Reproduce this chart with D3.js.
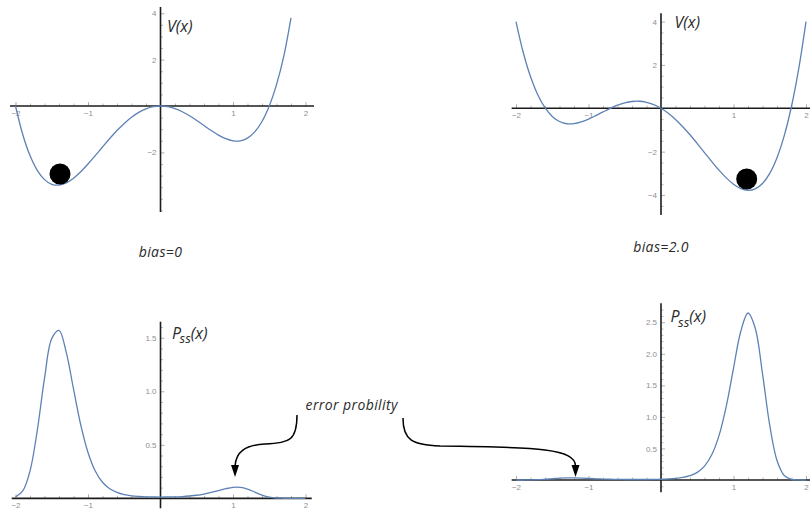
<!DOCTYPE html>
<html><head><meta charset="utf-8">
<script src="https://cdn.jsdelivr.net/npm/d3@7"></script>
<style>
html,body{margin:0;padding:0;background:#fff;}
svg{display:block;}
</style></head>
<body><svg id="c" width="810" height="509"></svg>
<script>
// ---------------- data ----------------
const xs = [-2.0,-1.9,-1.8,-1.7,-1.6,-1.5,-1.4,-1.3,-1.2,-1.1,-1.0,-0.9,-0.8,-0.7,-0.6,-0.5,-0.4,-0.3,-0.2,-0.1,
            0.0,0.1,0.2,0.3,0.4,0.5,0.6,0.7,0.8,0.9,1.0,1.1,1.2,1.3,1.4,1.5,1.6,1.7,1.8,1.9,2.0];
// potential V(x), bias = 0 (x from -2 to 1.8)
const vBias0 = [0,-1.227,-2.138,-2.774,-3.174,-3.375,-3.410,-3.312,-3.110,-2.831,-2.500,-2.138,-1.766,-1.401,-1.058,-0.750,-0.486,-0.275,-0.122,-0.030,
                0,-0.029,-0.114,-0.248,-0.422,-0.625,-0.842,-1.058,-1.254,-1.409,-1.500,-1.500,-1.382,-1.115,-0.666,0,0.922,2.139,3.80];
// potential V(x), bias = 2.0
const vBias2 = [4.000,2.573,1.462,0.626,0.026,-0.375,-0.610,-0.712,-0.710,-0.631,-0.500,-0.338,-0.166,-0.001,0.142,0.250,0.314,0.325,0.278,0.170,
                0,-0.229,-0.514,-0.848,-1.222,-1.625,-2.042,-2.458,-2.854,-3.209,-3.500,-3.700,-3.782,-3.715,-3.466,-3.000,-2.278,-1.261,0.094,1.832,4.000];
// stationary distribution Pss(x), bias = 0
const pBias0 = [0.012,0.069,0.255,0.633,1.120,1.493,1.569,1.364,1.022,0.686,0.428,0.255,0.150,0.089,0.055,0.035,0.024,0.018,0.014,0.013,
                0.012,0.013,0.014,0.017,0.022,0.029,0.040,0.055,0.072,0.090,0.103,0.103,0.087,0.059,0.031,0.012,0.003,0.001,0,0,0];
// stationary distribution Pss(x), bias = 2.0
const pBias2 = [0,0.0003,0.0015,0.005,0.012,0.020,0.029,0.033,0.033,0.029,0.024,0.019,0.015,0.012,0.010,0.008,0.008,0.008,0.008,0.009,
                0.012,0.017,0.025,0.040,0.068,0.121,0.220,0.399,0.703,1.167,1.769,2.354,2.646,2.405,1.685,0.866,0.309,0.072,0.010,0.001,0];
// balls (data coords)
const ballBias0 = [-1.386, -2.93];
const ballBias2 = [1.182, -3.26];
// tick labels
const xTicks = [-2,-1,1,2];
const vTicks0 = [-2,2,4];
const vTicks2 = [-4,-2,2,4];
const pTicks0 = [0.5,1.0,1.5];
const pTicks2 = [0.5,1.0,1.5,2.0,2.5];
// texts
const biasLabels = ["bias=0","bias=2.0"];
const errorLabel = "error probility";
// annotation arrows (data coords of the panel they point into): M p0 C p1 p2 p3 C p4 p5 p6, tip
const arrowLeft = [[1.883,0.779],[1.883,0.545],[1.786,0.517],[1.441,0.507],[1.166,0.498],[1.041,0.433],[1.028,0.302]];
const arrowLeftTip = [1.028,0.199];
const arrowRight = [[-3.559,0.981],[-3.559,0.633],[-3.434,0.554],[-3.048,0.538],[-1.669,0.522],[-1.186,0.491],[-1.179,0.222]];
const arrowRightTip = [-1.179,0.047];

// ---------------- drawing ----------------
const svg = d3.select("#c");
const BLUE = "#5E81B5", AX = "#1c1c1c", TICK = "#9a9a9a", TXT = "#2b2b2b";
const FONT = "'Open Sans', Lato, sans-serif";

function panel(cfg){
  const g = svg.append("g");
  const x = d3.scaleLinear().domain([-2,2]).range(cfg.xr);
  const y = d3.scaleLinear().domain(cfg.yd).range(cfg.yr);
  const y0 = y(0), x0 = x(0);

  const minorX = x.ticks(20).filter(v => Math.abs(v - Math.round(v)) > 1e-6);
  g.append("g").attr("transform",`translate(0,${y0})`)
    .call(d3.axisBottom(x).tickValues(minorX).tickSize(-2.5).tickFormat(""))
    .call(s => { s.select(".domain").remove(); s.selectAll("line").attr("stroke",TICK).attr("stroke-width",0.7); });
  g.append("g").attr("transform",`translate(0,${y0})`)
    .call(d3.axisBottom(x).tickValues(xTicks).tickSize(-4).tickPadding(4).tickFormat(d3.format("d")))
    .call(s => {
      s.select(".domain").remove();
      s.selectAll("line").attr("stroke",TICK).attr("stroke-width",0.8);
      s.selectAll("text").attr("fill","#8f8f8f").attr("font-size",8).attr("font-family","'Liberation Sans', Arial, sans-serif");
    });
  const minorY = d3.range(Math.ceil(cfg.yd[0]/cfg.minor)*cfg.minor, cfg.yd[1], cfg.minor)
      .filter(v => Math.abs(v) > 1e-6 && !cfg.yTicks.some(t => Math.abs(t - v) < 1e-6));
  g.append("g").attr("transform",`translate(${x0},0)`)
    .call(d3.axisLeft(y).tickValues(minorY).tickSize(-2.5).tickFormat(""))
    .call(s => { s.select(".domain").remove(); s.selectAll("line").attr("stroke",TICK).attr("stroke-width",0.7); });
  g.append("g").attr("transform",`translate(${x0},0)`)
    .call(d3.axisLeft(y).tickValues(cfg.yTicks).tickSize(-4).tickPadding(4).tickFormat(cfg.fmt))
    .call(s => {
      s.select(".domain").remove();
      s.selectAll("line").attr("stroke",TICK).attr("stroke-width",0.8);
      s.selectAll("text").attr("fill","#8f8f8f").attr("font-size",8).attr("font-family","'Liberation Sans', Arial, sans-serif");
    });

  g.append("line").attr("x1",x(cfg.xext[0])).attr("x2",x(cfg.xext[1])).attr("y1",y0).attr("y2",y0)
    .attr("stroke",AX).attr("stroke-width",1.6);
  g.append("line").attr("x1",x0).attr("x2",x0).attr("y1",cfg.yr[0]).attr("y2",cfg.yr[1])
    .attr("stroke",AX).attr("stroke-width",1.6);

  const pts = d3.zip(xs.slice(0,cfg.vals.length), cfg.vals);
  g.append("path").datum(pts)
    .attr("d", d3.line().x(d=>x(d[0])).y(d=>y(d[1])).curve(d3.curveCatmullRom.alpha(0.5)))
    .attr("fill","none").attr("stroke",BLUE).attr("stroke-width",1.3);

  if (cfg.ball) {
    g.append("circle").attr("cx",x(cfg.ball[0])).attr("cy",y(cfg.ball[1])).attr("r",10.5).attr("fill","#000");
  }

  const t = g.append("text").attr("x",x0+cfg.lab[0]).attr("y",cfg.yr[1]+cfg.lab[1])
     .attr("font-family",FONT).attr("font-style","italic").attr("font-size",16).attr("fill",TXT);
  if (cfg.pss) {
    t.append("tspan").text("P");
    t.append("tspan").text("ss").attr("font-size",13).attr("dx",-1.5).attr("dy",4.5);
    t.append("tspan").text("(x)").attr("dy",-4.5).attr("dx",0);
  } else {
    t.text("V(x)");
  }
  return {x,y};
}

const tl = panel({xr:[15.5,305.5], yd:[-4.57,4.27], yr:[212,7], xext:[-2.076,2.117], yTicks:vTicks0, fmt:d3.format("d"),
                  minor:0.5, vals:vBias0, ball:ballBias0, lab:[6.5,25.3]});
const tr = panel({xr:[516,806], yd:[-4.92,4.38], yr:[215,13.3], xext:[-2.06,2.08], yTicks:vTicks2, fmt:d3.format("d"),
                  minor:0.5, vals:vBias2, ball:ballBias2, lab:[13.5,15]});
const bl = panel({xr:[15.5,305.5], yd:[-0.093,1.65], yr:[508.3,321.7], xext:[-2.052,2.086], yTicks:pTicks0, fmt:d3.format(".1f"),
                  minor:0.1, vals:pBias0, lab:[11.5,17], pss:true});
const br = panel({xr:[516,806], yd:[-0.195,2.8], yr:[492.3,303.3], xext:[-2.06,2.08], yTicks:pTicks2, fmt:d3.format(".1f"),
                  minor:0.1, vals:pBias2, lab:[9.5,19], pss:true});

function label(txt, x, y){
  svg.append("text").attr("x",x).attr("y",y).attr("text-anchor","middle")
    .attr("font-family",FONT).attr("font-style","italic").attr("font-size",14)
    .attr("letter-spacing",0.4).attr("fill",TXT).text(txt);
}
label(biasLabels[0], tl.x(0), 256.5);
label(biasLabels[1], tr.x(0), 251.5);
label(errorLabel, 351.7, 410);

function arrow(pts, tip, sc){
  const P = pts.map(p => [sc.x(p[0]), sc.y(p[1])]);
  const p = d3.path();
  p.moveTo(P[0][0],P[0][1]);
  for (let i=1;i+2<P.length;i+=3) p.bezierCurveTo(P[i][0],P[i][1],P[i+1][0],P[i+1][1],P[i+2][0],P[i+2][1]);
  svg.append("path").attr("d",p.toString()).attr("fill","none").attr("stroke","#000").attr("stroke-width",1.5);
  const e = P[P.length-1], t = [sc.x(tip[0]), sc.y(tip[1])];
  svg.append("path").attr("d",`M${e[0]-4},${e[1]-1}L${e[0]+4},${e[1]-1}L${t[0]},${t[1]}Z`).attr("fill","#000");
}
arrow(arrowLeft, arrowLeftTip, bl);
arrow(arrowRight, arrowRightTip, br);
</script>
</body></html>
